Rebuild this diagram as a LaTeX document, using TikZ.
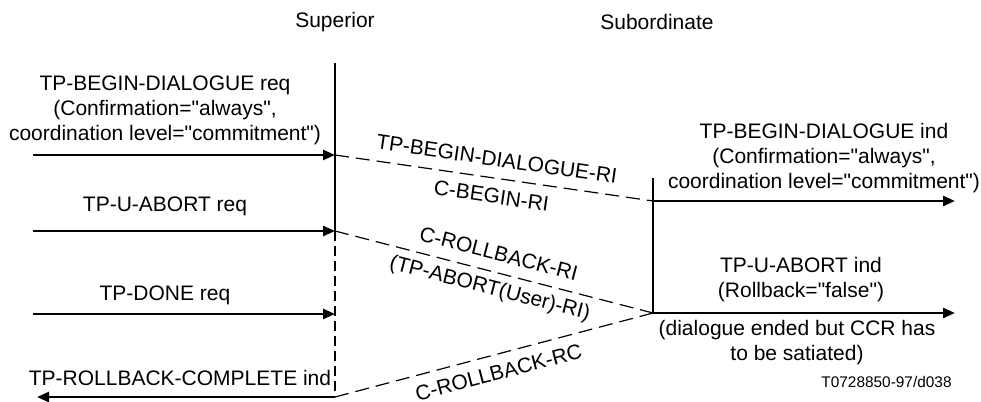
\documentclass[tikz,border=0pt]{standalone}
\usepackage{fontspec}
\newfontfamily\msfont{Liberation Sans}
\usetikzlibrary{arrows.meta}
\definecolor{msink}{HTML}{000000}
\tikzset{
  txt/.style={font=\msfont\fontsize{10.5}{12.5}\selectfont, align=center, inner sep=1pt, text=msink},
  tag/.style={font=\msfont\fontsize{7.7}{9}\selectfont, inner sep=0pt, text=msink},
  life/.style={line width=1pt, color=msink},
  lifed/.style={line width=1pt, color=msink, dash pattern=on 5pt off 2.5pt},
  prim/.style={line width=1.3pt, color=msink, -{Triangle[length=6pt,width=5pt]}},
  pdu/.style={line width=0.6pt, color=msink, dash pattern=on 7pt off 3.5pt},
  msg/.style={txt, sloped},
}
\begin{document}
\begin{tikzpicture}[x=0.5pt,y=-0.5pt]
  \useasboundingbox (0,0) rectangle (981,402);
  % lifelines
  \node[txt] (sup) at (335,22) {Superior};
  \node[txt] (sub) at (657,22) {Subordinate};
  \coordinate (supTop) at (335,63);
  \coordinate (subTop) at (653,178);
  \foreach \n/\y in {1/155,2/231,3/314,4/397} {
    \coordinate (s\n) at (335,\y);
    \coordinate (l\n) at (33,\y);
  }
  \coordinate (l4) at (37,397);
  \coordinate (b1) at (653,201);
  \coordinate (b2) at (653,313);
  \coordinate (r1) at (955,201);
  \coordinate (r2) at (955,313);
  \draw[life] (supTop) -- (s2);
  \draw[lifed] (s2) -- (s4);
  \draw[life] (subTop) -- (b2);
  % service primitives
  \draw[prim] (l1) -- (s1);
  \draw[prim] (l2) -- (s2);
  \draw[prim] (l3) -- (s3);
  \draw[prim] (s4) -- (l4);
  \draw[prim] (b1) -- (r1);
  \draw[prim] (b2) -- (r2);
  \node[txt] (reqBegin) at (165,110) {TP-BEGIN-DIALOGUE req\\(Confirmation="always",\\coordination level="commitment")};
  \node[txt] (reqAbort) at (165,206) {TP-U-ABORT req};
  \node[txt] (reqDone) at (165,295) {TP-DONE req};
  \node[txt] (indRbc) at (180,378) {TP-ROLLBACK-COMPLETE ind};
  \node[txt] (indBegin) at (824,158) {TP-BEGIN-DIALOGUE ind\\(Confirmation="always",\\coordination level="commitment")};
  \node[txt] (indAbort) at (801,280) {TP-U-ABORT ind\\(Rollback="false")};
  \node[txt] (note) at (797,343) {(dialogue ended but CCR has\\to be satiated)};
  \node[tag, anchor=east] (fig) at (952,382) {T0728850-97/d038};
  % APDUs
  \draw[pdu] (s1) -- node[msg, above=4.5pt] (riBegin) {TP-BEGIN-DIALOGUE-RI}
    node[msg, below=4pt] (cBegin) {C-BEGIN-RI} (b1);
  \draw[pdu] (s2) -- node[msg, above=4.5pt] (cRb) {C-ROLLBACK-RI}
    node[msg, below=2.5pt] (riAbort) {(TP-ABORT(User)-RI)} (b2);
  \draw[pdu] (s4) -- node[msg, below=4pt] (cRc) {C-ROLLBACK-RC} (b2);
\end{tikzpicture}
\end{document}
